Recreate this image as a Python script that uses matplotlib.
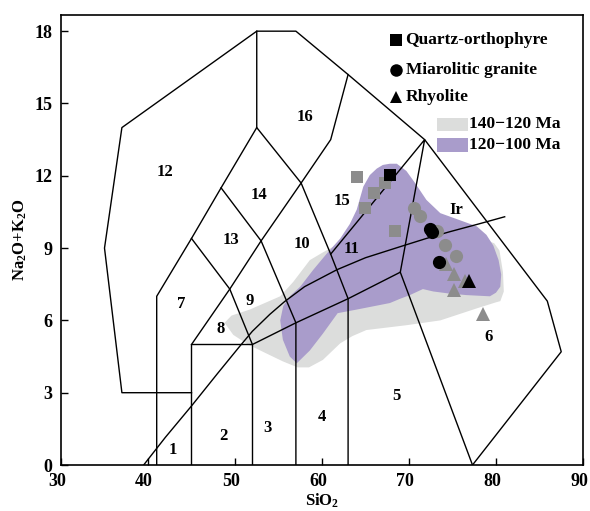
import matplotlib
matplotlib.use("Agg")
import matplotlib.pyplot as plt
import matplotlib.transforms as mtransforms
from matplotlib.patches import Polygon, Rectangle

plt.rcParams["font.family"] = ["Liberation Serif", "DejaVu Serif"]
plt.rcParams["font.weight"] = "bold"
plt.rcParams["mathtext.fontset"] = "custom"
plt.rcParams["mathtext.rm"] = "Liberation Serif:bold"
plt.rcParams["mathtext.default"] = "rm"

# Middlemost (1994) plutonic TAS field boundaries (SiO2, Na2O+K2O)
BOUNDARIES = [
    [(77.3, 0), (87.5, 4.7), (85.9, 6.8), (71.8, 13.5), (63, 16.2), (57, 18),
     (52.5, 18), (37, 14), (35, 9), (37, 3), (45, 3)],
    [(41, 0), (41, 7), (45, 9.4), (48.4, 11.5), (52.5, 14), (52.5, 18)],
    [(45, 0), (45, 5), (52, 5), (52, 0)],
    [(45, 5), (49.4, 7.3), (53, 9.3), (57.6, 11.7), (61, 13.5), (63, 16.2)],
    [(45, 9.4), (49.4, 7.3), (52, 5), (57, 5.9), (63, 6.9), (69, 8), (77.3, 0)],
    [(48.4, 11.5), (53, 9.3), (57, 5.9), (57, 0)],
    [(52.5, 14), (57.6, 11.7), (61, 8.75), (63, 6.9), (63, 0)],
    [(61, 8.75), (71.8, 13.5), (69, 8)],
]

# Irvine & Baragar alkaline / subalkaline divide
IR_SIO2 = [39.5, 42.0, 45.0, 48.0, 50.6, 52.0, 54.0, 55.7, 58.0, 61.7, 65.0, 69.0, 72.0, 74.7, 78.0, 81.0]
IR_ALK = [0.0, 1.15, 2.45, 3.8, 4.95, 5.55, 6.25, 6.78, 7.4, 8.1, 8.6, 9.06, 9.4, 9.68, 10.0, 10.3]

FIELD_LABELS = ["1", "2", "3", "4", "5", "6", "7", "8", "9", "10", "11", "12",
                "13", "14", "15", "16", "Ir"]
LABEL_SIO2 = [42.9, 48.7, 53.7, 60.0, 68.6, 79.1, 43.8, 48.3, 51.7, 57.7, 63.4,
              42.0, 49.5, 52.7, 62.3, 58.0, 75.4]
LABEL_ALK = [0.62, 1.2, 1.54, 2.0, 2.85, 5.3, 6.68, 5.64, 6.8, 9.15, 8.95,
             12.15, 9.35, 11.2, 10.95, 14.45, 10.6]

# Compiled data fields by age
FIELD_140_120 = [(48.8, 5.9), (49.6, 6.2), (51.7, 6.45), (55.2, 7.0), (56.7, 7.6),
                 (58.6, 8.5), (60.0, 8.8), (66.0, 10.0), (74.0, 10.0), (79.8, 9.2),
                 (80.4, 8.9), (80.8, 8.0), (80.9, 7.2), (80.5, 6.8), (80.0, 6.75),
                 (77.8, 6.5), (73.6, 6.0), (69.7, 5.8), (65.1, 5.6), (63.5, 5.35),
                 (62.1, 5.05), (60.1, 4.36), (58.5, 4.05), (57.2, 4.05), (55.5, 4.3),
                 (53.6, 4.63), (51.5, 5.0), (49.8, 5.4)]
FIELD_120_100 = [(66.3, 12.3), (67.0, 12.45), (67.8, 12.5), (68.6, 12.5), (69.7, 12.2),
                 (70.7, 11.7), (72.0, 11.0), (73.6, 10.45), (75.9, 10.15), (77.8, 9.9),
                 (78.9, 9.55), (79.7, 9.1), (80.3, 8.5), (80.6, 7.9), (80.5, 7.4),
                 (80.0, 7.15), (79.3, 7.0), (76.6, 7.05), (74.5, 7.12), (72.8, 7.2),
                 (71.6, 7.3), (70.1, 7.05), (69.0, 6.9), (67.8, 6.72), (64.0, 6.45),
                 (61.8, 6.3), (61.0, 5.9), (60.1, 5.45), (58.6, 4.75), (57.1, 4.22),
                 (56.3, 4.5), (55.5, 5.2), (55.2, 6.0), (55.55, 6.6), (56.3, 7.0),
                 (57.5, 7.4), (59.0, 8.1), (60.5, 8.75), (62.1, 9.4), (63.2, 10.0),
                 (64.0, 10.6), (64.75, 11.55), (65.5, 12.03)]

# Samples: grey = compiled, black = this study
QO_GREY_SIO2 = [64.0, 67.2, 66.0, 64.9, 68.4]
QO_GREY_ALK = [11.94, 11.71, 11.27, 10.65, 9.72]
QO_SIO2 = [67.8]
QO_ALK = [12.05]

MG_GREY_SIO2 = [70.6, 71.3, 73.25, 74.1, 75.4]
MG_GREY_ALK = [10.65, 10.34, 9.71, 9.13, 8.67]
MG_SIO2 = [72.4, 72.6, 73.4]
MG_ALK = [9.8, 9.66, 8.41]

RH_GREY_SIO2 = [74.3, 75.2, 75.2, 76.4, 78.5]
RH_GREY_ALK = [8.33, 7.91, 7.26, 7.63, 6.25]
RH_SIO2 = [76.9]
RH_ALK = [7.63]

GREY_MARK = "#8c8c8c"
GREY_FIELD = "#dcdddc"
PURPLE_FIELD = "#a99ccb"

fig = plt.figure(figsize=(5.9, 5.11), dpi=100)
ax = fig.add_axes([0.1034, 0.090, 0.8847, 0.8806])

ax.add_patch(Polygon(FIELD_140_120, closed=True, facecolor=GREY_FIELD, edgecolor="none", zorder=1))
ax.add_patch(Polygon(FIELD_120_100, closed=True, facecolor=PURPLE_FIELD, edgecolor="none", zorder=2))

for line in BOUNDARIES:
    xs, ys = zip(*line)
    ax.plot(xs, ys, color="black", lw=1.0, zorder=3)
ax.plot(IR_SIO2, IR_ALK, color="black", lw=1.0, zorder=3)

for lab, x, y in zip(FIELD_LABELS, LABEL_SIO2, LABEL_ALK):
    ax.text(x, y, lab, ha="center", va="center", fontsize=12, fontweight="bold", zorder=4)

ms = 9
ax.plot(QO_GREY_SIO2, QO_GREY_ALK, "s", color=GREY_MARK, ms=ms, mew=0, zorder=5)
ax.plot(MG_GREY_SIO2, MG_GREY_ALK, "o", color=GREY_MARK, ms=ms + 0.5, mew=0, zorder=5)
ax.plot(RH_GREY_SIO2, RH_GREY_ALK, "^", color=GREY_MARK, ms=ms + 0.5, mew=0, zorder=5)
ax.plot(QO_SIO2, QO_ALK, "s", color="black", ms=ms, mew=0, zorder=6)
ax.plot(MG_SIO2, MG_ALK, "o", color="black", ms=ms + 0.5, mew=0, zorder=6)
ax.plot(RH_SIO2, RH_ALK, "^", color="black", ms=ms + 0.5, mew=0, zorder=6)

# legend, drawn by hand in axes fraction
tr = ax.transAxes
for marker, yf, text in [("s", 0.944, "Quartz-orthophyre"),
                         ("o", 0.878, "Miarolitic granite"),
                         ("^", 0.818, "Rhyolite")]:
    ax.plot([0.642], [yf], marker, color="black", ms=ms, mew=0, transform=tr, zorder=7)
    ax.text(0.660, yf, text, transform=tr, ha="left", va="center", fontsize=12.5, fontweight="bold")
for color, y0, text in [(GREY_FIELD, 0.742, "140\u2212120 Ma"),
                        (PURPLE_FIELD, 0.696, "120\u2212100 Ma")]:
    ax.add_patch(Rectangle((0.720, y0), 0.060, 0.030, transform=tr, facecolor=color, edgecolor="none"))
    ax.text(0.782, y0 + 0.015, text, transform=tr, ha="left", va="center", fontsize=12.5, fontweight="bold")

ax.set_xlim(30, 90)
ax.set_ylim(0, 18.67)
ax.set_xticks(range(30, 91, 10))
ax.set_yticks(range(0, 19, 3))
ax.tick_params(direction="in", length=5, width=1.0, labelsize=13)
ax.tick_params(axis="y", pad=6)
ax.tick_params(axis="x", pad=6)
shift = mtransforms.ScaledTranslation(-4 / 100, 0, fig.dpi_scale_trans)
for lbl in ax.get_xticklabels():
    lbl.set_transform(lbl.get_transform() + shift)
for lbl in ax.get_xticklabels() + ax.get_yticklabels():
    lbl.set_fontweight("bold")
for sp in ax.spines.values():
    sp.set_linewidth(1.2)

ax.set_xlabel("SiO$_2$", fontsize=12, fontweight="bold", labelpad=1)
ax.set_ylabel("Na$_2$O+K$_2$O", fontsize=12, fontweight="bold", labelpad=4)

fig.savefig("out.png", dpi=100)
